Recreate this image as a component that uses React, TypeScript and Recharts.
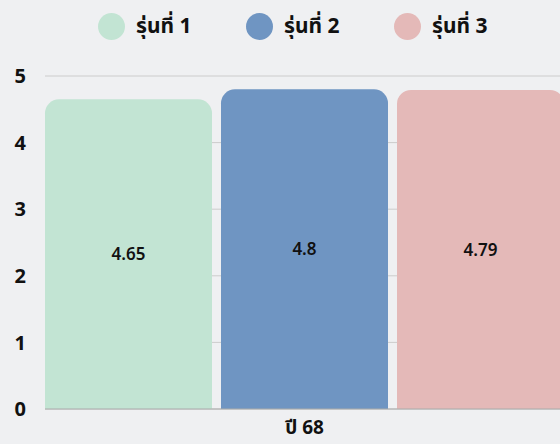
import { BarChart, Bar, XAxis, YAxis, CartesianGrid, Legend, LabelList } from 'recharts';

const categories = ['ปี 68'];
const seriesNames = ['รุ่นที่ 1', 'รุ่นที่ 2', 'รุ่นที่ 3'];
const seriesValues = [[4.65], [4.8], [4.79]];
const yTicks = [0, 1, 2, 3, 4, 5];
const colors = ['#c2e4d3', '#6f95c2', '#e4b9b8'];

const data = categories.map((name, i) => {
  const row: Record<string, string | number> = { name };
  seriesNames.forEach((s, j) => {
    row[s] = seriesValues[j][i];
  });
  return row;
});

const font = '"Noto Sans Thai", "Noto Sans", sans-serif';

const renderLegend = () => (
  <div style={{ display: 'flex', fontFamily: font, height: 28 }}>
    {seriesNames.map((s, i) => (
      <div key={s} style={{ display: 'flex', alignItems: 'center', width: 148 }}>
        <span
          style={{
            width: 27,
            height: 27,
            borderRadius: '50%',
            background: colors[i],
            display: 'inline-block',
            marginRight: 11,
          }}
        />
        <span style={{ fontSize: 21, fontWeight: 700, color: '#111' }}>{s}</span>
      </div>
    ))}
  </div>
);

const App = () => {
  return (
    <div
      style={{
        position: 'fixed',
        left: 0,
        top: 0,
        width: 560,
        height: 444,
        background: '#eff0f2',
        overflow: 'hidden',
      }}
    >
      <BarChart
        width={564}
        height={444}
        data={data}
        margin={{ top: 48, right: 0, left: 0, bottom: 0 }}
        barCategoryGap={0}
        barGap={9}
        style={{ fontFamily: font }}
      >
        <CartesianGrid vertical={false} stroke="#cccccc" />
        <Legend
          verticalAlign="top"
          content={renderLegend}
          wrapperStyle={{ position: 'absolute', top: 12, left: 98, width: 450 }}
        />
        <XAxis
          dataKey="name"
          height={35}
          tickLine={false}
          axisLine={{ stroke: '#aaaaaa' }}
          tick={{ fontSize: 19, fontWeight: 700, fill: '#111' }}
          tickMargin={6}
        />
        <YAxis
          width={45}
          domain={[0, 5]}
          ticks={yTicks}
          axisLine={false}
          tickLine={false}
          tickSize={0}
          tickMargin={19}
          tick={{ fontSize: 20, fontWeight: 700, fill: '#111' }}
        />
        {seriesNames.map((s, i) => (
          <Bar key={s} dataKey={s} fill={colors[i]} radius={[14, 14, 0, 0]} isAnimationActive={false}>
            <LabelList dataKey={s} position="center" fill="#111" fontSize={17} fontWeight={600} />
          </Bar>
        ))}
      </BarChart>
    </div>
  );
};

export default App;
